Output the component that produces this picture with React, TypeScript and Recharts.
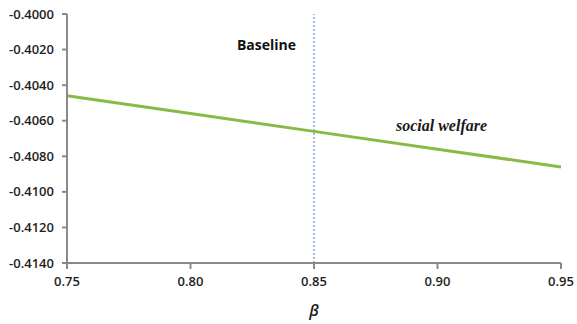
import React from "react";
import {
  LineChart,
  Line,
  XAxis,
  YAxis,
  ReferenceLine,
  LabelList,
} from "recharts";

const betaValues = [0.75, 0.8, 0.85, 0.9, 0.95];
const welfareValues = [-0.4046, -0.4056, -0.4066, -0.4076, -0.4086];
const xTicks = [0.75, 0.8, 0.85, 0.9, 0.95];
const yTicks = [-0.414, -0.412, -0.41, -0.408, -0.406, -0.404, -0.402, -0.4];
const baselineBeta = 0.85;

const data = betaValues.map((b, i) => ({ beta: b, welfare: welfareValues[i] }));

const tickStyle = {
  fontFamily: "'Open Sans', sans-serif",
  fontSize: 13,
  fill: "#1e1e1e",
  fontWeight: 600,
};

export default function App() {
  return (
    <div style={{ position: "absolute", left: 0, top: 0, background: "#fff" }}>
      <LineChart
        width={577}
        height={324}
        data={data}
        margin={{ top: 14, right: 16, bottom: 0, left: 0 }}
      >
        <XAxis
          dataKey="beta"
          type="number"
          domain={[0.75, 0.95]}
          ticks={xTicks}
          tickFormatter={(v: number) => v.toFixed(2)}
          tick={tickStyle}
          stroke="#8a8a8a"
          strokeWidth={2}
          tickSize={6}
          tickMargin={8}
          height={61}
          label={{
            value: "β",
            position: "insideBottom",
            offset: 8,
            style: {
              fontFamily: "'Open Sans', sans-serif",
              fontStyle: "italic",
              fontWeight: 600,
              fontSize: 16,
              fill: "#1e1e1e",
            },
          }}
        />
        <YAxis
          type="number"
          domain={[-0.414, -0.4]}
          ticks={yTicks}
          tickFormatter={(v: number) => v.toFixed(4)}
          tick={tickStyle}
          stroke="#8a8a8a"
          strokeWidth={2}
          tickSize={5}
          tickMargin={8}
          width={67}
          allowDataOverflow
        />
        <ReferenceLine
          x={baselineBeta}
          stroke="#5b8fd6"
          strokeWidth={1.2}
          strokeDasharray="2 2"
          label={{
            content: (props: any) => {
              const vb = props.viewBox || {};
              return (
                <text
                  x={vb.x - 18}
                  y={vb.y + 36}
                  textAnchor="end"
                  style={{
                    fontFamily: "'Open Sans', sans-serif",
                    fontWeight: 700,
                    fontSize: 14,
                    fill: "#111",
                  }}
                >
                  Baseline
                </text>
              );
            },
          }}
        />
        <Line
          type="linear"
          dataKey="welfare"
          stroke="#88bb46"
          strokeWidth={3}
          dot={false}
          isAnimationActive={false}
        >
          <LabelList
            dataKey="welfare"
            content={(props: any) => {
              if (props.index !== 3) return null;
              return (
                <text
                  x={props.x + 4}
                  y={props.y - 18}
                  textAnchor="middle"
                  style={{
                    fontFamily: "'Liberation Serif', serif",
                    fontStyle: "italic",
                    fontWeight: 700,
                    fontSize: 16,
                    fill: "#1a1a1a",
                  }}
                >
                  social welfare
                </text>
              );
            }}
          />
        </Line>
      </LineChart>
    </div>
  );
}
